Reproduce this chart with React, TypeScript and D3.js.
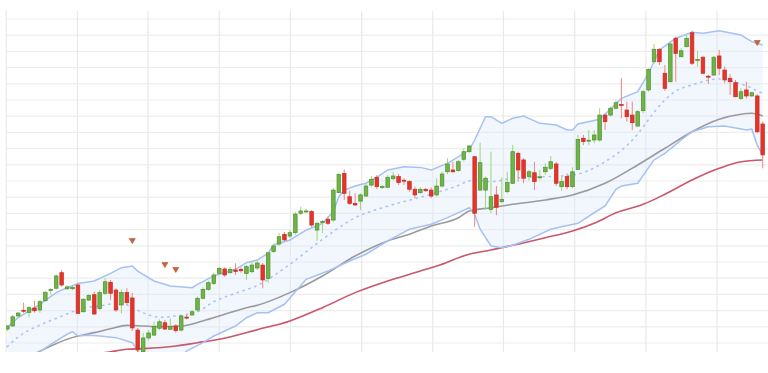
import React, { useEffect, useRef } from "react";
import * as d3 from "d3";

// OHLC per session (index 0..139)
const opens = [
  108.6, 110.5, 116.7, 120.2, 118.9, 121.6, 120.4, 126.1, 132.4, 133.8,
  143.4, 133.5, 133.5, 135.8, 119.3, 126.5, 129.8, 121.2, 130.7, 137.5,
  132.7, 123.5, 131.1, 127.8, 108.0, 94.6, 103.1, 104.9, 109.1, 112.5,
  108.5, 110.5, 108.0, 116.0, 117.3, 120.4, 127.6, 133.1, 136.8, 143.0,
  145.7, 143.4, 145.1, 145.5, 143.0, 144.0, 146.3, 148.1, 139.9, 156.4,
  161.1, 167.1, 166.0, 168.1, 180.1, 180.9, 181.1, 169.7, 174.4, 176.4,
  175.9, 192.8, 204.7, 190.3, 186.2, 187.6, 190.7, 197.5, 202.3, 196.0,
  196.1, 201.4, 202.7, 200.5, 199.6, 194.9, 192.8, 194.9, 194.4, 191.4,
  196.9, 205.7, 206.8, 206.4, 213.4, 218.1, 215.0, 194.4, 194.4, 182.5,
  191.4, 187.2, 193.4, 198.6, 217.1, 213.0, 202.7, 205.1, 202.0, 205.7,
  207.8, 210.5, 196.5, 202.7, 196.5, 207.2, 226.4, 224.6, 225.3, 225.3,
  240.7, 240.7, 244.9, 247.3, 243.8, 240.7, 233.9, 243.4, 256.2, 273.6,
  281.3, 266.5, 261.3, 288.1, 276.7, 282.9, 291.5, 274.4, 276.4, 264.7,
  265.4, 277.2, 268.5, 263.4, 260.7, 251.0, 256.2, 252.5, 252.5, 235.2,
];
const highs = [
  111.1, 117.3, 119.1, 124.9, 122.8, 126.1, 126.5, 132.1, 133.9, 142.4,
  145.1, 135.8, 135.2, 137.2, 127.6, 130.1, 131.7, 132.7, 140.1, 138.9,
  133.8, 133.1, 133.8, 130.9, 109.3, 106.2, 108.0, 113.1, 114.6, 114.2,
  115.2, 111.7, 117.3, 117.3, 120.4, 128.6, 134.4, 138.5, 143.4, 147.1,
  146.7, 147.1, 149.2, 146.7, 148.1, 150.2, 150.6, 149.4, 156.4, 161.1,
  167.9, 168.5, 169.7, 180.9, 184.1, 182.7, 182.1, 174.9, 175.9, 177.8,
  195.7, 205.1, 207.2, 194.0, 192.4, 192.4, 198.6, 203.1, 203.7, 197.5,
  203.7, 205.7, 204.3, 201.7, 200.6, 196.5, 196.1, 195.7, 196.1, 201.7,
  205.7, 214.0, 211.9, 213.0, 220.2, 222.2, 215.4, 223.6, 202.7, 218.1,
  196.9, 202.3, 205.7, 222.2, 218.1, 214.0, 206.8, 211.9, 206.8, 210.9,
  215.4, 211.9, 202.7, 204.7, 208.5, 228.4, 228.4, 231.5, 231.5, 244.9,
  241.8, 245.9, 250.0, 263.4, 249.0, 249.0, 243.8, 256.2, 269.6, 284.6,
  281.9, 271.6, 285.4, 289.1, 281.9, 290.1, 292.8, 280.4, 277.2, 265.4,
  277.2, 280.9, 270.6, 266.0, 262.4, 257.2, 261.3, 255.1, 253.7, 236.6,
];
const lows = [
  107.4, 109.9, 115.9, 118.5, 116.0, 118.7, 118.7, 125.7, 129.6, 133.1,
  134.7, 132.7, 132.7, 117.9, 118.7, 125.9, 117.3, 120.4, 129.6, 126.5,
  119.3, 118.3, 123.5, 107.4, 94.0, 93.2, 101.8, 104.3, 108.0, 108.0,
  108.0, 106.4, 107.0, 114.6, 116.7, 119.3, 127.0, 132.3, 135.8, 142.0,
  140.9, 142.6, 142.0, 143.4, 138.9, 143.0, 145.1, 133.8, 137.2, 155.6,
  159.9, 163.0, 164.8, 166.7, 179.0, 180.3, 171.6, 163.1, 167.9, 172.8,
  174.9, 192.4, 188.3, 185.2, 184.6, 182.1, 190.3, 196.5, 194.9, 195.1,
  195.7, 200.6, 197.5, 197.5, 193.4, 189.3, 192.0, 193.2, 189.3, 190.3,
  196.1, 204.3, 205.1, 205.7, 211.9, 217.5, 171.8, 194.0, 182.1, 180.1,
  179.0, 186.2, 192.4, 198.1, 199.6, 198.6, 200.2, 194.4, 200.6, 203.7,
  206.8, 196.9, 194.0, 194.9, 195.5, 206.8, 222.2, 222.2, 223.3, 224.3,
  231.5, 239.7, 244.3, 238.7, 236.6, 231.5, 233.5, 241.8, 255.1, 272.7,
  271.6, 255.7, 260.7, 261.3, 276.4, 282.5, 271.6, 270.6, 266.0, 259.9,
  264.8, 265.4, 260.3, 253.1, 251.7, 250.0, 251.0, 251.9, 229.4, 207.8,
];
const closes = [
  110.5, 116.2, 118.5, 119.6, 121.8, 119.9, 125.5, 131.1, 133.0, 141.4,
  135.8, 134.6, 134.4, 118.3, 127.0, 129.4, 117.9, 131.1, 137.8, 130.7,
  120.4, 131.1, 124.9, 109.3, 95.7, 103.1, 106.2, 110.1, 113.1, 108.6,
  110.1, 107.6, 116.7, 115.6, 119.3, 127.6, 133.1, 137.2, 142.0, 146.1,
  142.0, 145.5, 144.2, 144.6, 147.1, 148.1, 149.4, 138.9, 155.7, 159.9,
  165.6, 163.6, 168.1, 179.6, 181.5, 181.5, 172.8, 173.9, 175.0, 173.9,
  194.4, 204.1, 192.4, 186.2, 185.2, 191.4, 196.9, 201.0, 196.5, 196.6,
  202.3, 203.1, 199.0, 199.9, 194.9, 191.4, 194.9, 194.0, 190.7, 196.9,
  204.3, 210.5, 205.7, 211.9, 218.1, 221.6, 180.1, 211.3, 201.7, 190.3,
  183.8, 188.7, 199.0, 218.1, 206.8, 201.7, 205.7, 199.6, 202.6, 208.5,
  211.9, 198.6, 199.6, 196.5, 205.7, 225.7, 224.3, 225.2, 228.4, 240.7,
  236.6, 244.9, 248.3, 246.7, 239.7, 236.0, 242.8, 255.1, 268.9, 281.3,
  273.6, 257.2, 284.6, 278.8, 280.4, 288.1, 272.7, 275.0, 266.5, 264.1,
  276.4, 269.6, 262.4, 261.3, 252.0, 255.1, 252.5, 254.5, 230.4, 216.1,
];

// indicator lines read as [session index, value]
const upperBand: [number, number][] = [
  [0, 109.9], [2, 115.6], [6, 123.9], [9, 131.1], [11, 134.1], [13, 136.8], [16, 138.3],
  [19, 143.0], [21, 146.5], [23, 147.5], [24, 144.4], [27, 138.3], [30, 135.2], [34, 134.1],
  [35, 136.2], [38, 141.4], [42, 145.5], [44, 149.6], [46, 151.2], [48, 155.4], [49, 160.5],
  [52, 163.6], [55, 169.7], [58, 173.9], [60, 181.1], [61, 190.3], [62, 194.4], [64, 196.9],
  [66, 198.6], [68, 202.3], [70, 206.8], [73, 208.8], [76, 208.4], [78, 206.8], [81, 210.9],
  [85, 219.1], [86, 225.3], [88, 239.7], [89, 239.7], [91, 235.6], [93, 238.7], [95, 240.1],
  [98, 235.6], [101, 234.6], [103, 231.5], [104, 231.5], [105, 235.2], [109, 238.1], [113, 251.0],
  [116, 255.1], [118, 266.5], [120, 280.9], [123, 288.1], [126, 291.8], [128, 291.2], [131, 292.8],
  [135, 290.1], [137, 286.0], [139, 283.9],
];
const lowerBand: [number, number][] = [
  [0, 82.6], [6, 94.6], [8, 99.2], [11, 105.4], [12, 107.0], [13, 104.3], [15, 104.8],
  [17, 104.3], [20, 103.3], [23, 100.2], [24, 95.0], [26, 86.4], [29, 83.3], [31, 88.3],
  [33, 95.0], [36, 100.2], [38, 104.3], [42, 110.5], [44, 115.6], [46, 118.7], [48, 118.7],
  [51, 123.9], [55, 139.3], [59, 144.4], [63, 150.6], [66, 154.8], [70, 163.0], [74, 170.2],
  [78, 173.3], [81, 177.4], [85, 183.5], [86, 179.4], [87, 170.2], [89, 159.9], [91, 158.8],
  [93, 160.3], [96, 164.0], [100, 170.2], [102, 171.8], [105, 173.9], [108, 180.4], [110, 184.6],
  [112, 194.9], [113, 196.9], [116, 198.6], [119, 213.0], [121, 217.1], [124, 225.3], [126, 230.4],
  [129, 233.5], [132, 233.9], [136, 231.5], [137, 232.0], [138, 222.0], [139, 216.0],
];
const middleBand: [number, number][] = [
  [0, 97.8], [2, 103.7], [6, 111.1], [9, 115.2], [12, 119.3], [15, 122.2], [17, 122.8],
  [19, 124.1], [21, 124.5], [23, 121.8], [26, 117.3], [28, 115.9], [31, 116.7], [35, 119.3],
  [38, 125.5], [42, 130.7], [46, 135.5], [52, 148.6], [58, 164.0], [64, 177.3], [70, 184.5],
  [76, 190.0], [82, 196.0], [86, 200.6], [89, 199.6], [93, 201.7], [98, 202.5], [104, 203.7],
  [110, 211.9], [116, 229.0], [118, 238.0], [121, 250.0], [123, 255.5], [126, 259.3],
  [131, 263.0], [135, 260.0], [139, 254.0],
];
const smaFast: [number, number][] = [
  [0, 85.2], [6, 94.9], [8, 98.1], [11, 102.3], [13, 104.3], [16, 106.4], [19, 108.8],
  [22, 110.9], [25, 110.5], [28, 110.1], [32, 110.5], [36, 113.6], [40, 117.7], [44, 121.8],
  [46, 123.3], [52, 131.1], [58, 141.4], [64, 153.7], [70, 163.0], [74, 167.1], [78, 172.2],
  [83, 177.3], [85, 181.5], [89, 183.5], [93, 185.6], [99, 188.3], [104, 191.4], [110, 198.6],
  [116, 209.9], [121, 220.2], [126, 230.4], [131, 238.1], [135, 241.2], [137, 241.8], [139, 240.1],
];
const smaSlow: [number, number][] = [
  [0, 85.8], [10, 90.1], [19, 94.6], [22, 96.1], [25, 96.5], [31, 98.1], [35, 100.2],
  [39, 102.3], [46, 108.2], [52, 113.6], [58, 121.8], [64, 131.1], [70, 138.3], [76, 144.4],
  [79, 147.5], [85, 154.8], [89, 157.4], [93, 160.3], [99, 165.0], [104, 169.1], [108, 173.9],
  [112, 180.4], [117, 185.6], [121, 191.8], [126, 200.6], [131, 207.8], [135, 211.9], [139, 213.0],
];
const signals: [number, number][] = [[23, 162.9], [29, 148.1], [31, 145.1], [138, 285.2]];

// grid positions
const xGridTicks = [-0.2, 12.9, 25.9, 39.0, 52.1, 65.2, 78.3, 91.3, 104.4, 117.5, 130.6];
const yGridTicks = d3.range(100, 301, 10);

export default function App() {
  const ref = useRef<SVGSVGElement>(null);

  useEffect(() => {
    const W = 768, H = 373;
    const plot = { left: 6, right: 768, top: 11, bottom: 352 };
    const svg = d3.select(ref.current).attr("width", W).attr("height", H);
    svg.selectAll("*").remove();

    const x = d3.scaleLinear().domain([0, opens.length - 1]).range([7.3, 762.7]);
    const y = d3.scaleLinear().domain([100, 300]).range([343, 19]);

    svg.append("defs").append("clipPath").attr("id", "plotClip")
      .append("rect")
      .attr("x", plot.left).attr("y", plot.top)
      .attr("width", plot.right - plot.left).attr("height", plot.bottom - plot.top);

    // grid
    const grid = svg.append("g");
    grid.selectAll(".hg").data(yGridTicks).join("line")
      .attr("x1", plot.left).attr("x2", plot.right)
      .attr("y1", d => y(d)).attr("y2", d => y(d))
      .attr("stroke", "#ededed").attr("stroke-width", 1.2);
    grid.selectAll(".vg").data(xGridTicks).join("line")
      .attr("x1", d => x(d)).attr("x2", d => x(d))
      .attr("y1", plot.top).attr("y2", plot.bottom)
      .attr("stroke", "#e9e9e9").attr("stroke-width", 1.2);

    const g = svg.append("g").attr("clip-path", "url(#plotClip)");
    const line = d3.line<[number, number]>().x(d => x(d[0])).y(d => y(d[1]));
    const smooth = d3.line<[number, number]>().x(d => x(d[0])).y(d => y(d[1]))
      .curve(d3.curveMonotoneX);

    // band fill
    const poly = upperBand.concat(lowerBand.slice().reverse());
    g.append("path").attr("d", line(poly) + "Z")
      .attr("fill", "#dfe8fb").attr("fill-opacity", 0.4);

    g.append("path").attr("d", smooth(smaSlow)).attr("fill", "none")
      .attr("stroke", "#c9566a").attr("stroke-width", 1.6);
    g.append("path").attr("d", smooth(smaFast)).attr("fill", "none")
      .attr("stroke", "#9a9a9a").attr("stroke-width", 1.6);
    g.append("path").attr("d", smooth(middleBand)).attr("fill", "none")
      .attr("stroke", "#a9c3f3").attr("stroke-width", 1.6)
      .attr("stroke-dasharray", "1.2 5").attr("stroke-linecap", "round");
    g.append("path").attr("d", line(upperBand)).attr("fill", "none")
      .attr("stroke", "#a6c1f3").attr("stroke-width", 1.5);
    g.append("path").attr("d", line(lowerBand)).attr("fill", "none")
      .attr("stroke", "#a6c1f3").attr("stroke-width", 1.5);

    // candles
    const idx = d3.range(opens.length);
    const bw = 3.6;
    const up = (i: number) => closes[i] >= opens[i];
    g.selectAll(".wick").data(idx).join("line")
      .attr("x1", i => x(i)).attr("x2", i => x(i))
      .attr("y1", i => y(highs[i])).attr("y2", i => y(lows[i]))
      .attr("stroke", i => (up(i) ? "#9ed872" : "#f0877c"))
      .attr("stroke-width", 1);
    g.selectAll(".body").data(idx).join("rect")
      .attr("x", i => x(i) - bw / 2)
      .attr("y", i => y(Math.max(opens[i], closes[i])))
      .attr("width", bw)
      .attr("height", i => Math.max(1, Math.abs(y(opens[i]) - y(closes[i]))))
      .attr("fill", i => (up(i) ? "#6fb545" : "#e4352b"))
      .attr("stroke", i => (up(i) ? "#4f8f30" : "#c92c23"))
      .attr("stroke-width", 0.7);

    // signal markers
    g.selectAll(".sig").data(signals).join("path")
      .attr("d", d => {
        const cx = x(d[0]), cy = y(d[1]);
        return `M${cx - 3},${cy - 2.5}L${cx + 3},${cy - 2.5}L${cx},${cy + 2.5}Z`;
      })
      .attr("fill", "#c4663f").attr("stroke", "#a9522f").attr("stroke-width", 0.6);
  }, []);

  return (
    <svg ref={ref} style={{ position: "absolute", left: 0, top: 0, background: "#fff" }} />
  );
}
